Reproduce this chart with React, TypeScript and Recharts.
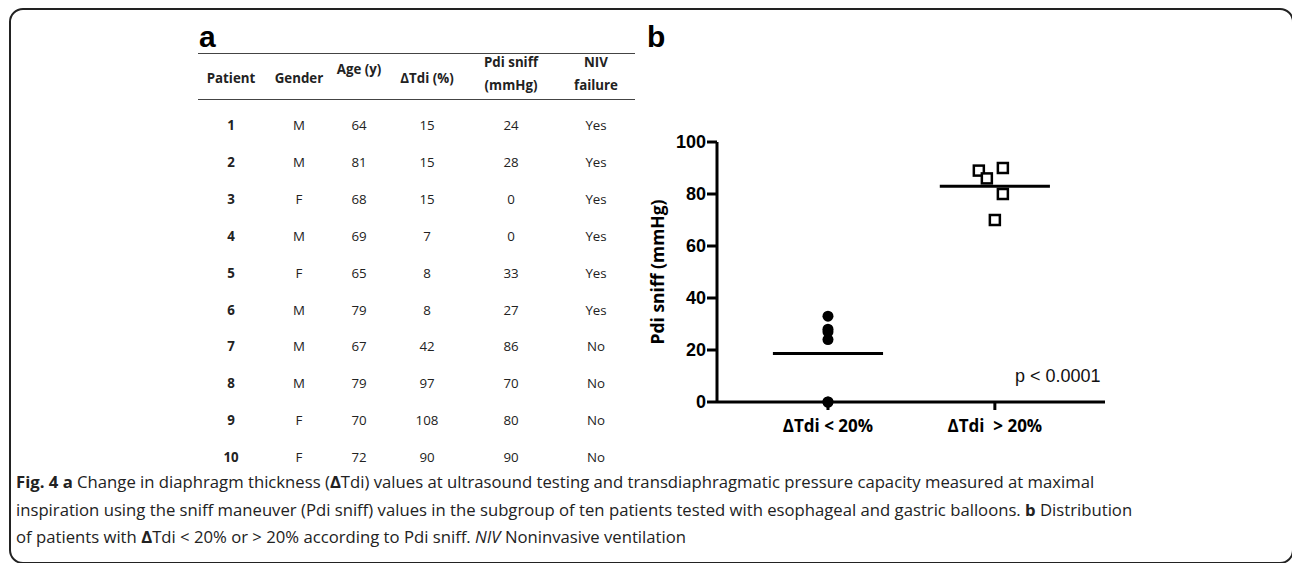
import React from 'react';
import { ScatterChart, Scatter, XAxis, YAxis, ReferenceLine, Label } from 'recharts';

// table (panel a)
const patients = ['1', '2', '3', '4', '5', '6', '7', '8', '9', '10'];
const genders = ['M', 'M', 'F', 'M', 'F', 'M', 'M', 'M', 'F', 'F'];
const ages = [64, 81, 68, 69, 65, 79, 67, 79, 70, 72];
const deltaTdi = [15, 15, 15, 7, 8, 8, 42, 97, 108, 90];
const pdiSniff = [24, 28, 0, 0, 33, 27, 86, 70, 80, 90];
const nivFailure = ['Yes', 'Yes', 'Yes', 'Yes', 'Yes', 'Yes', 'No', 'No', 'No', 'No'];

// scatter (panel b)
const groupLabels = ['ΔTdi < 20%', 'ΔTdi\u00a0 > 20%'];
const lowGroupValues = [33, 28, 27, 24, 0, 0];
const lowGroupJitter = [0, 0, 0, 0, 0, 0];
const highGroupValues = [89, 86, 90, 80, 70];
const highGroupJitter = [-0.096, -0.048, 0.048, 0.048, 0];
const yTicks = [0, 20, 40, 60, 80, 100];

const mean = (arr: number[]) => arr.reduce((s, v) => s + v, 0) / arr.length;

const lowData = lowGroupValues.map((v, i) => ({ x: 1 + lowGroupJitter[i], y: v }));
const highData = highGroupValues.map((v, i) => ({ x: 2 + highGroupJitter[i], y: v }));
const lowMean = mean(lowGroupValues);
const highMean = mean(highGroupValues);

const colCenters = [231, 299, 359, 427, 511, 596];
const tableFont = '"Open Sans", sans-serif';

const Dot = (props: any) => <circle cx={props.cx} cy={props.cy} r={5.5} fill="#000" />;
const Square = (props: any) => (
  <rect x={props.cx - 5} y={props.cy - 5} width={10} height={10} fill="#fff" stroke="#000" strokeWidth={2.5} />
);

const Cell = ({ x, y, children, bold }: any) => (
  <div
    style={{
      position: 'absolute',
      left: x - 50,
      top: y - 10,
      width: 100,
      height: 20,
      lineHeight: '20px',
      textAlign: 'center',
      fontFamily: tableFont,
      fontSize: 13.3,
      fontWeight: bold ? 700 : 400,
      color: '#222',
    }}
  >
    {children}
  </div>
);

const HeadCell = ({ x, y, lines }: any) => (
  <div
    style={{
      position: 'absolute',
      left: x - 50,
      top: y - lines.length * 11.5,
      width: 100,
      lineHeight: '23px',
      textAlign: 'center',
      fontFamily: tableFont,
      fontSize: 13.3,
      fontWeight: 700,
      color: '#222',
    }}
  >
    {lines.map((l: string) => (
      <div key={l}>{l}</div>
    ))}
  </div>
);

const App = () => {
  const rows = patients.map((p, i) => [p, genders[i], ages[i], deltaTdi[i], pdiSniff[i], nivFailure[i]]);
  return (
    <div style={{ position: 'absolute', left: 0, top: 0, width: 1292, height: 563, background: '#fff', overflow: 'hidden' }}>
      {/* frame */}
      <div
        style={{
          position: 'absolute',
          left: 9,
          top: 8,
          width: 1281,
          height: 552,
          border: '2px solid #222',
          borderRadius: 14,
        }}
      />

      {/* panel labels */}
      <div style={{ position: 'absolute', left: 199, top: 22, fontFamily: '"Liberation Sans", Arial', fontWeight: 700, fontSize: 30, lineHeight: '30px' }}>a</div>
      <div style={{ position: 'absolute', left: 647, top: 22, fontFamily: '"Liberation Sans", Arial', fontWeight: 700, fontSize: 30, lineHeight: '30px' }}>b</div>

      {/* table rules */}
      <div style={{ position: 'absolute', left: 198, top: 53, width: 437, height: 0, borderTop: '1.5px solid #444' }} />
      <div style={{ position: 'absolute', left: 198, top: 99, width: 437, height: 0, borderTop: '1.5px solid #444' }} />

      <HeadCell x={colCenters[0]} y={78} lines={['Patient']} />
      <HeadCell x={colCenters[1]} y={78} lines={['Gender']} />
      <HeadCell x={colCenters[2]} y={69} lines={['Age (y)']} />
      <HeadCell x={colCenters[3]} y={78} lines={['ΔTdi (%)']} />
      <HeadCell x={colCenters[4]} y={74} lines={['Pdi sniff', '(mmHg)']} />
      <HeadCell x={colCenters[5]} y={74} lines={['NIV', 'failure']} />

      {rows.map((r, i) =>
        r.map((v, j) => (
          <Cell key={`${i}-${j}`} x={colCenters[j]} y={125 + i * 36.9} bold={j === 0}>
            {v}
          </Cell>
        ))
      )}

      {/* chart */}
      <div style={{ position: 'absolute', left: 630, top: 100 }}>
        <ScatterChart width={500} height={360} margin={{ top: 42, right: 25, left: 0, bottom: 0 }}>
          <XAxis
            type="number"
            dataKey="x"
            domain={[0.335, 2.66]}
            ticks={[1, 2]}
            allowDataOverflow
            tickFormatter={(v: number) => groupLabels[v - 1]}
            height={58}
            tickSize={8}
            tickMargin={10}
            axisLine={{ stroke: '#000', strokeWidth: 3 }}
            tickLine={{ stroke: '#000', strokeWidth: 3 }}
            tick={{ fill: '#000', fontSize: 17, fontWeight: 700, fontFamily: '"Open Sans", sans-serif' }}
          />
          <YAxis
            type="number"
            dataKey="y"
            domain={[0, 100]}
            ticks={yTicks}
            width={87}
            tickSize={10}
            tickMargin={1}
            axisLine={{ stroke: '#000', strokeWidth: 3 }}
            tickLine={{ stroke: '#000', strokeWidth: 3 }}
            tick={{ fill: '#000', fontSize: 18, fontWeight: 700, fontFamily: '"Liberation Sans", Arial' }}
          >
            <Label
              content={({ viewBox }: any) => {
                const cx = viewBox.x + 27;
                const cy = viewBox.y + viewBox.height / 2;
                return (
                  <text
                    x={cx}
                    y={cy}
                    transform={`rotate(-90, ${cx}, ${cy})`}
                    textAnchor="middle"
                    dominantBaseline="central"
                    fill="#000"
                    fontSize={17.5}
                    fontWeight={700}
                    fontFamily='"Open Sans", sans-serif'
                  >
                    Pdi sniff (mmHg)
                  </text>
                );
              }}
            />
          </YAxis>
          <ReferenceLine
            segment={[{ x: 1 - 0.33, y: lowMean }, { x: 1 + 0.33, y: lowMean }]}
            stroke="#000"
            strokeWidth={3}
          />
          <ReferenceLine
            segment={[{ x: 2 - 0.33, y: highMean }, { x: 2 + 0.33, y: highMean }]}
            stroke="#000"
            strokeWidth={3}
          />
          <Scatter data={lowData} shape={Dot} isAnimationActive={false} />
          <Scatter data={highData} shape={Square} isAnimationActive={false} />
        </ScatterChart>
      </div>
      <div style={{ position: 'absolute', left: 1015, top: 367, fontFamily: '"Liberation Sans", Arial', fontSize: 18, lineHeight: '18px', color: '#111' }}>
        p &lt; 0.0001
      </div>

      {/* caption */}
      <div
        style={{
          position: 'absolute',
          left: 16,
          top: 468,
          fontFamily: '"Open Sans", sans-serif',
          fontSize: 16.7,
          lineHeight: '27.5px',
          color: '#222',
          whiteSpace: 'nowrap',
        }}
      >
        <div>
          <b>Fig. 4 a</b> Change in diaphragm thickness (<b>Δ</b>Tdi) values at ultrasound testing and transdiaphragmatic pressure capacity measured at maximal
        </div>
        <div>
          inspiration using the sniff maneuver (Pdi sniff) values in the subgroup of ten patients tested with esophageal and gastric balloons. <b>b</b> Distribution
        </div>
        <div>
          of patients with <b>Δ</b>Tdi &lt; 20% or &gt; 20% according to Pdi sniff. <i>NIV</i> Noninvasive ventilation
        </div>
      </div>
    </div>
  );
};

export default App;
